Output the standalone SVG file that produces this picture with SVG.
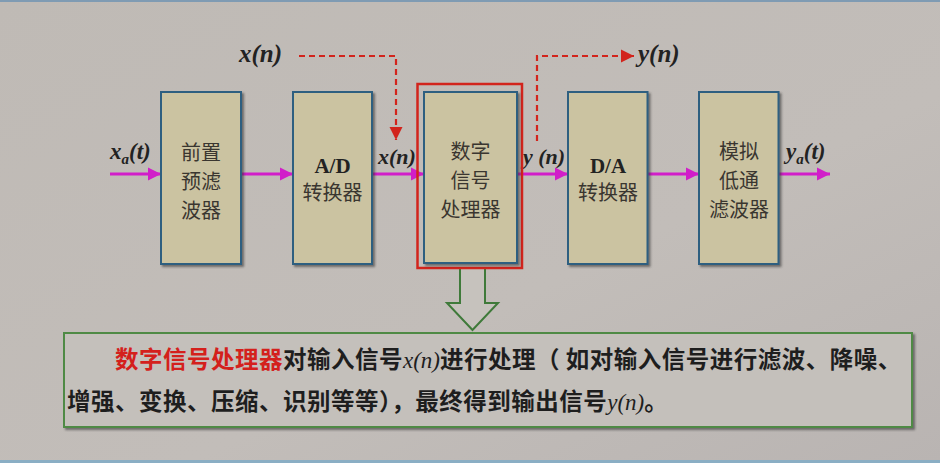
<svg xmlns="http://www.w3.org/2000/svg" width="940" height="463" viewBox="0 0 940 463">
<defs>
<linearGradient id="bg" x1="0" y1="0" x2="1" y2="1">
<stop offset="0" stop-color="#bfbab5"/>
<stop offset="0.6" stop-color="#c2bdb9"/>
<stop offset="1" stop-color="#b9b4b2"/>
</linearGradient>
<marker id="mag" viewBox="0 0 10 10" refX="10" refY="5" markerWidth="4.4" markerHeight="4.4" markerUnits="strokeWidth" orient="auto">
<path d="M0,0 L10,5 L0,10 z" fill="#d11ec9"/>
</marker>
<marker id="red" viewBox="0 0 10 10" refX="10" refY="5" markerWidth="6" markerHeight="6" markerUnits="strokeWidth" orient="auto">
<path d="M0,0 L10,5 L0,10 z" fill="#d2241c"/>
</marker>
<filter id="sh" x="-10%" y="-10%" width="130%" height="130%">
<feDropShadow dx="2" dy="2" stdDeviation="1.2" flood-color="#333" flood-opacity="0.6"/>
</filter>
</defs>
<style>
.box{fill:#cbc3a1;stroke:#2f5f80;stroke-width:2;filter:url(#sh)}
.cjk{font-family:"Noto Sans CJK SC",sans-serif;font-size:20px;fill:#3a3630;text-anchor:middle}
.lat{font-family:"Liberation Serif","DejaVu Serif",serif;font-weight:bold;fill:#222;text-anchor:middle}
.sig{font-family:"Liberation Serif","DejaVu Serif",serif;font-weight:bold;font-style:italic;fill:#222}
.mag{stroke:#d11ec9;stroke-width:3;fill:none;marker-end:url(#mag)}
.dash{stroke:#d2241c;stroke-width:2.2;fill:none;stroke-dasharray:6 4;marker-end:url(#red)}
.txt{font-family:"Noto Sans CJK SC",sans-serif;font-size:23.5px;font-weight:bold;fill:#1e1e1e;letter-spacing:0.5px}
.it{font-family:"Liberation Serif",serif;font-style:italic;font-weight:normal;font-size:23px;fill:#1e1e1e;letter-spacing:0}
</style>
<rect width="940" height="463" fill="url(#bg)"/>
<rect x="0" y="0" width="940" height="2" fill="#7f9bb3"/>
<rect x="0" y="460" width="940" height="3" fill="#8aaec4"/>

<g id="connectors">
<line class="mag" x1="110" y1="174" x2="161" y2="174"/>
<line class="mag" x1="242" y1="174" x2="293" y2="174"/>
<line class="mag" x1="373" y1="174" x2="424" y2="174"/>
<line class="mag" x1="517" y1="174" x2="568" y2="174"/>
<line class="mag" x1="648" y1="174" x2="699" y2="174"/>
<line class="mag" x1="779" y1="174" x2="830" y2="174"/>
<polyline class="dash" points="299,56 396,56 396,140"/>
<polyline class="dash" points="537,141 537,56 634,56"/>
<path d="M460,268 L485,268 L485,303 L498,303 L472.5,330 L447,303 L460,303 Z" fill="#c6c2bd" stroke="#3f7a3a" stroke-width="2"/>
</g>

<g id="label-xa">
<text class="sig" x="110" y="159" font-size="23">x<tspan font-size="15" dy="5">a</tspan><tspan dy="-5">(t)</tspan></text>
</g>
<g id="label-xn-top">
<text class="sig" x="239" y="62" font-size="25">x(n)</text>
</g>
<g id="label-yn-top">
<text class="sig" x="638" y="62" font-size="25">y(n)</text>
</g>
<g id="label-xn">
<text class="sig" x="378" y="164" font-size="22">x(n)</text>
</g>
<g id="label-yn">
<text class="sig" x="523" y="164" font-size="22">y (n)</text>
</g>
<g id="label-ya">
<text class="sig" x="786" y="159" font-size="23">y<tspan font-size="15" dy="5">a</tspan><tspan dy="-5">(t)</tspan></text>
</g>

<g id="prefilter">
<rect class="box" x="161" y="92" width="80" height="172"/>
<text class="cjk" x="201" y="160">前置</text>
<text class="cjk" x="201" y="189">预滤</text>
<text class="cjk" x="201" y="218">波器</text>
</g>
<g id="adc">
<rect class="box" x="293" y="92" width="79" height="172"/>
<text class="lat" x="332.5" y="173" font-size="21">A/D</text>
<text class="cjk" x="332.5" y="200">转换器</text>
</g>
<g id="dsp">
<rect x="417.5" y="84" width="104.5" height="184" fill="none" stroke="#d2241c" stroke-width="2.5"/>
<rect class="box" x="424" y="92" width="93" height="171"/>
<text class="cjk" x="470.5" y="159">数字</text>
<text class="cjk" x="470.5" y="188">信号</text>
<text class="cjk" x="470.5" y="217">处理器</text>
</g>
<g id="dac">
<rect class="box" x="568" y="92" width="79.5" height="172"/>
<text class="lat" x="608" y="173" font-size="21">D/A</text>
<text class="cjk" x="608" y="200">转换器</text>
</g>
<g id="lpf">
<rect class="box" x="699" y="92" width="79.5" height="172"/>
<text class="cjk" x="739" y="159">模拟</text>
<text class="cjk" x="739" y="188">低通</text>
<text class="cjk" x="739" y="217">滤波器</text>
</g>

<g id="description">
<rect x="64" y="333" width="848" height="94" fill="#c4c0bb" stroke="#4f8a45" stroke-width="2" filter="url(#sh)"/>
<text class="txt" x="115" y="368"><tspan fill="#d4201c">数字信号处理器</tspan>对输入信号<tspan class="it">x(n)</tspan>进行处理（ 如对输入信号进行滤波、降噪、</text>
<text class="txt" x="67" y="410">增强、变换、压缩、识别等等），最终得到输出信号<tspan class="it">y(n)</tspan>。</text>
</g>
</svg>
